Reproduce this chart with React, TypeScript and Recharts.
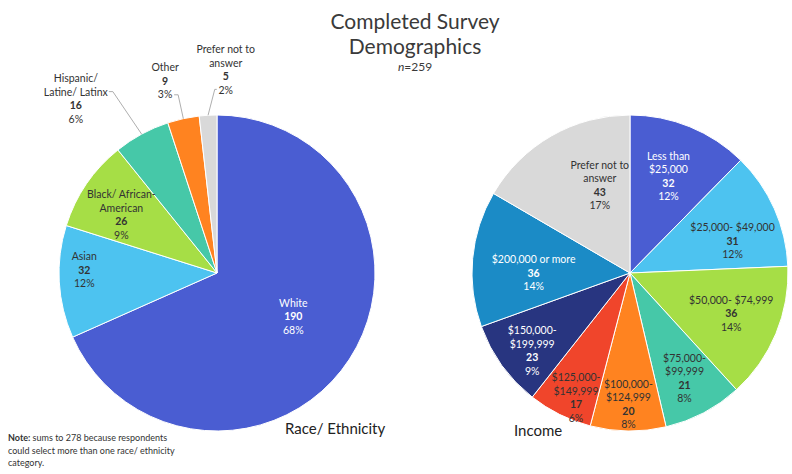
import { Pie, PieChart, Cell } from "recharts";

const raceLabels = ["White", "Asian", "Black/ African-\nAmerican", "Hispanic/\nLatine/ Latinx", "Other", "Prefer not to\nanswer"];
const raceCounts = [190, 32, 26, 16, 9, 5];
const racePercents = ["68%", "12%", "9%", "6%", "3%", "2%"];

const incomeLabels = [
  "Less than\n$25,000",
  "$25,000- $49,000",
  "$50,000- $74,999",
  "$75,000-\n$99,999",
  "$100,000-\n$124,999",
  "$125,000-\n$149,999",
  "$150,000-\n$199,999",
  "$200,000 or more",
  "Prefer not to\nanswer",
];
const incomeCounts = [32, 31, 36, 21, 20, 17, 23, 36, 43];
const incomePercents = ["12%", "12%", "14%", "8%", "8%", "6%", "9%", "14%", "17%"];

const raceColors = ["#4A5DD2", "#4DC3F0", "#A6DE46", "#46C8A8", "#FF8320", "#D9D9D9"];
const incomeColors = ["#4A5DD2", "#4DC3F0", "#A6DE46", "#46C8A8", "#FF8320", "#F0452B", "#283580", "#1B8BC6", "#D9D9D9"];

// label placement: radius ratio, angle shift, text colour, optional leader end (relative to label centre)
const raceLabelPos = [
  { r: 0.555, shift: 3.5, fill: "#fff" },
  { r: 0.84, shift: -4.6, fill: "#333" },
  { r: 0.71, shift: 2.8, fill: "#333" },
  { r: 1.42, shift: 10.5, fill: "#333", line: [33, -7] },
  { r: 1.26, shift: 2.8, fill: "#333", line: [9, 14] },
  { r: 1.29, shift: -5.7, fill: "#333", line: [-9, 20] },
];
const incomeLabelPos = [
  { r: 0.66, shift: 0.6, fill: "#fff" },
  { r: 0.68, shift: -6.6, fill: "#333" },
  { r: 0.69, shift: 0.8, fill: "#333" },
  { r: 0.75, shift: -0.4, fill: "#333" },
  { r: 0.83, shift: 0, fill: "#333" },
  { r: 0.86, shift: 3, fill: "#333" },
  { r: 0.79, shift: 2.6, fill: "#fff" },
  { r: 0.61, shift: 5, fill: "#fff" },
  { r: 0.59, shift: -11, fill: "#333" },
];

const raceData = raceLabels.map((name, i) => ({ name, value: raceCounts[i], pct: racePercents[i] }));
const incomeData = incomeLabels.map((name, i) => ({ name, value: incomeCounts[i], pct: incomePercents[i] }));

const RAD = Math.PI / 180;
const FONT = "Lato, 'Open Sans', sans-serif";

function makeLabel(data: { name: string; value: number; pct: string }[], layout: any[]) {
  return (props: any) => {
    const { cx, cy, midAngle, outerRadius, index } = props;
    const cfg = layout[index];
    const d = data[index];
    const ang = (midAngle + cfg.shift) * RAD;
    const x = cx + outerRadius * cfg.r * Math.cos(ang);
    const y = cy - outerRadius * cfg.r * Math.sin(ang);
    const lines = [...d.name.split("\n"), String(d.value), d.pct];
    const boldIdx = lines.length - 2;
    const step = 13.5;
    const y0 = y - ((lines.length - 1) * step) / 2;
    let leader = null;
    if (cfg.line) {
      const ex = cx + outerRadius * Math.cos(midAngle * RAD);
      const ey = cy - outerRadius * Math.sin(midAngle * RAD);
      const lx = x + cfg.line[0];
      const ly = y + cfg.line[1];
      const hx = lx + (cfg.line[0] > 0 ? 4 : -2);
      leader = <polyline points={`${lx},${ly} ${hx},${ly} ${ex},${ey}`} fill="none" stroke="#999" strokeWidth={0.8} />;
    }
    return (
      <g>
        {leader}
        <text x={x} textAnchor="middle" fontFamily={FONT} fontSize={10.5} fill={cfg.fill}>
          {lines.map((t, i) => (
            <tspan key={i} x={x} y={y0 + i * step} dominantBaseline="central" fontWeight={i === boldIdx ? 700 : 400}>
              {t}
            </tspan>
          ))}
        </text>
      </g>
    );
  };
}

export default function App() {
  return (
    <div style={{ position: "absolute", left: 0, top: 0, width: 792, height: 474, background: "#fff", fontFamily: FONT }}>
      <PieChart width={792} height={474} margin={{ top: 0, right: 0, bottom: 0, left: 0 }}>
        <Pie
          data={raceData}
          dataKey="value"
          cx={217}
          cy={273}
          outerRadius={158}
          startAngle={90}
          endAngle={-270}
          stroke="#fff"
          strokeWidth={1}
          label={makeLabel(raceData, raceLabelPos)}
          labelLine={false}
          isAnimationActive={false}
        >
          {raceData.map((_, i) => (
            <Cell key={i} fill={raceColors[i]} />
          ))}
        </Pie>
        <Pie
          data={incomeData}
          dataKey="value"
          cx={630}
          cy={273}
          outerRadius={158}
          startAngle={90}
          endAngle={-270}
          stroke="#fff"
          strokeWidth={1}
          label={makeLabel(incomeData, incomeLabelPos)}
          labelLine={false}
          isAnimationActive={false}
        >
          {incomeData.map((_, i) => (
            <Cell key={i} fill={incomeColors[i]} />
          ))}
        </Pie>
      </PieChart>
      <div style={{ position: "absolute", left: 265, top: 8, width: 300, textAlign: "center", color: "#3a3a3a" }}>
        <div style={{ fontSize: 21, lineHeight: "25px" }}>Completed Survey</div>
        <div style={{ fontSize: 21, lineHeight: "25px" }}>Demographics</div>
        <div style={{ fontSize: 12, lineHeight: "18px" }}>
          <i>n</i>=259
        </div>
      </div>
      <div style={{ position: "absolute", left: 285, top: 419, fontSize: 15, color: "#222" }}>Race/ Ethnicity</div>
      <div style={{ position: "absolute", left: 514, top: 421, fontSize: 15, color: "#222" }}>Income</div>
      <div style={{ position: "absolute", left: 8, top: 432, width: 190, fontSize: 9, lineHeight: "12.5px", color: "#333" }}>
        <b>Note:</b> sums to 278 because respondents
        <br />
        could select more than one race/ ethnicity
        <br />
        category.
      </div>
    </div>
  );
}
